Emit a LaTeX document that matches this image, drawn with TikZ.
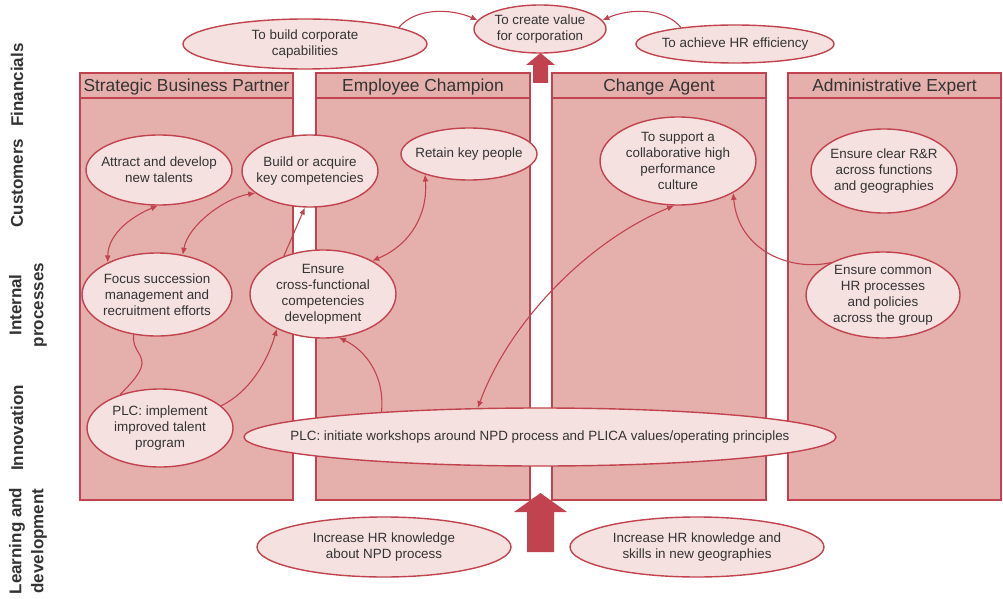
\documentclass[tikz,border=0pt]{standalone}
\usepackage{fontspec}
\setmainfont{Liberation Sans}
\usetikzlibrary{shapes.geometric,arrows.meta}
\definecolor{boxfill}{HTML}{E5B0AB}
\definecolor{ovalfill}{HTML}{F5E2E0}
\definecolor{edge}{HTML}{C1434F}
\definecolor{ink}{HTML}{333333}

% ellipse node of a given size with its text set on top
% #1 name, #2 centre, #3 width, #4 height, #5 text
\newcommand\hrbubble[5]{%
  \node[oval, minimum width=#3pt, minimum height=#4pt] (#1) at #2 {};
  \node[ovaltext] at (#1.center) {#5};}

\begin{document}
\begin{tikzpicture}[x=1pt,y=-1pt,
  column/.style={draw=edge, fill=boxfill, line width=1.8pt},
  rule/.style={draw=edge, line width=1.8pt},
  oval/.style={ellipse, draw=edge, fill=ovalfill, line width=1.4pt, inner sep=0pt},
  ovaltext/.style={text=ink, font=\fontsize{13.4}{16}\selectfont, align=center, inner sep=0pt},
  header/.style={text=ink, font=\fontsize{17.4}{20}\selectfont, anchor=base, inner sep=0pt},
  side/.style={text=ink, font=\bfseries\fontsize{17}{22}\selectfont, align=center, rotate=90, inner sep=0pt},
  link/.style={draw=edge, line width=1.1pt, -{Latex[length=7pt,width=6pt]}},
  both/.style={draw=edge, line width=1.1pt, {Latex[length=7pt,width=6pt]}-{Latex[length=7pt,width=6pt]}},
  plain/.style={draw=edge, line width=1.1pt},
  blockarrow/.style={fill=edge, draw=none}
]
\useasboundingbox (0,0) rectangle (1003,599);

% perspective labels
\node[side] (fin) at (17,85) {Financials};
\node[side] (cus) at (17,183) {Customers};
\node[side] (int) at (28,305) {Internal\\processes};
\node[side] (inn) at (17,428) {Innovation};
\node[side] (lad) at (28,541) {Learning and\\development};

% role columns
\draw[column] (80,73) rectangle (293,500);
\draw[column] (316,73) rectangle (530,500);
\draw[column] (552,73) rectangle (766,500);
\draw[column] (788,73) rectangle (1001,500);
\draw[rule] (80,98) -- (293,98);
\draw[rule] (316,98) -- (530,98);
\draw[rule] (552,98) -- (766,98);
\draw[rule] (788,98) -- (1001,98);
\node[header] (h1) at (186.5,92) {Strategic Business Partner};
\node[header] (h2) at (423,92) {Employee Champion};
\node[header] (h3) at (659,92) {Change Agent};
\node[header] (h4) at (894.5,92) {Administrative Expert};

% block arrows
\fill[blockarrow] (533,83) -- (533,65) -- (526,65) -- (540.5,53) -- (555,65) -- (548,65) -- (548,83) -- cycle;
\fill[blockarrow] (527,552) -- (527,512) -- (514,512) -- (540.5,493) -- (567,512) -- (554,512) -- (554,552) -- cycle;

% objectives
\hrbubble{cap}{(305,44)}{244}{50}{To build corporate\\capabilities}
\hrbubble{value}{(540,29)}{132}{48}{To create value\\for corporation}
\hrbubble{eff}{(735,44)}{198}{38}{To achieve HR efficiency}
\hrbubble{attract}{(159,170)}{146}{70}{Attract and develop\\new talents}
\hrbubble{build}{(310,171)}{136}{72}{Build or acquire\\key competencies}
\hrbubble{retain}{(469,154)}{136}{52}{Retain key people}
\hrbubble{support}{(678,161)}{156}{88}{To support a\\collaborative high\\performance\\culture}
\hrbubble{clear}{(884,171)}{146}{84}{Ensure clear R\&R\\across functions\\and geographies}
\hrbubble{focus}{(157,294.5)}{150}{83}{Focus succession\\management and\\recruitment efforts}
\hrbubble{cross}{(323,294)}{146}{88}{Ensure\\cross-functional\\competencies\\development}
\hrbubble{common}{(883,295)}{154}{86}{Ensure common\\HR processes\\and policies\\across the group}
\hrbubble{plcimp}{(160,428)}{146}{78}{PLC: implement\\improved talent\\program}
\hrbubble{plcinit}{(540,437)}{592}{58}{PLC: initiate workshops around NPD process and PLICA values/operating principles}
\hrbubble{npd}{(384,547)}{254}{60}{Increase HR knowledge\\about NPD process}
\hrbubble{geo}{(697,547)}{254}{60}{Increase HR knowledge and\\skills in new geographies}

% cause and effect links
\draw[link] (cap.10) .. controls (415,8) and (450,8) .. (value.172);
\draw[link] (eff.163) .. controls (665,8) and (630,8) .. (value.8);
\draw[both] (attract.268) .. controls (135,215) and (108,232) .. (focus.147);
\draw[both] (build.202) .. controls (225,198) and (188,225) .. (focus.57);
\draw[link] (cross.136) -- (build.262);
\draw[both] (retain.205) .. controls (428,215) and (410,245) .. (cross.34);
\draw[plain] (focus.240) .. controls (131,350) and (146,355) .. (141,368) .. controls (137,378) and (128,386) .. (plcimp.140);
\draw[link] (plcimp.20) .. controls (250,392) and (268,360) .. (cross.217);
\draw[link] (plcinit.171) .. controls (385,375) and (365,350) .. (cross.290);
\draw[both] (plcinit.155) .. controls (510,320) and (590,240) .. (support.265);
\draw[link] (common.148) .. controls (790,272) and (738,250) .. (support.330);

\end{tikzpicture}
\end{document}
